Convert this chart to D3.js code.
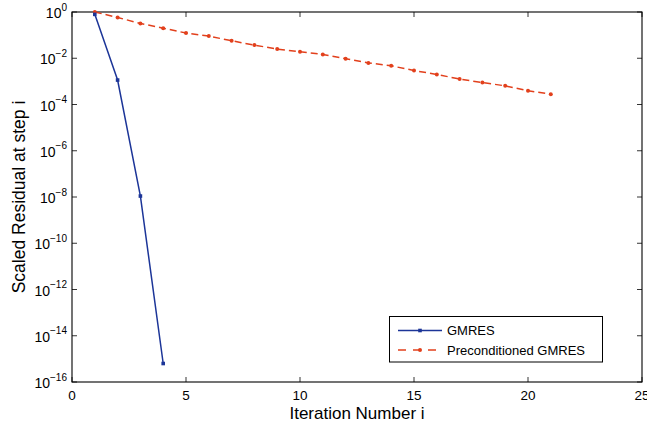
<!DOCTYPE html>
<html>
<head>
<meta charset="utf-8">
<script src="https://cdn.jsdelivr.net/npm/d3@7"></script>
<style>
body{margin:0;background:#fff;}
text{font-family:"Liberation Sans",Arial,sans-serif;fill:#000;}
</style>
</head>
<body>
<div id="chart"></div>
<script>
// iteration numbers and residuals
const gmresIter = [1, 2, 3, 4];
const gmresRes = [0.79, 1.14e-3, 1.1e-8, 6.3e-16];

const precIter = [1,2,3,4,5,6,7,8,9,10,11,12,13,14,15,16,17,18,19,20,21];
const precRes = [1.0, 0.58, 0.32, 0.2, 0.123, 0.091, 0.057, 0.037, 0.025, 0.019,
  0.0146, 0.0095, 0.0063, 0.0047, 0.00295, 0.002, 0.00126, 0.00089, 0.00064, 0.00039, 0.00028];

const xTicks = [0, 5, 10, 15, 20, 25];
const yExps = [0, -2, -4, -6, -8, -10, -12, -14, -16];

const W = 647, H = 425;
const margin = {top: 12, left: 72, right: 5, bottom: 43};
const pw = 642 - margin.left;
const ph = 382 - margin.top;

const blue = '#1c3598';
const red = '#e2401c';

const svg = d3.select('#chart').append('svg')
  .attr('width', W).attr('height', H);

const x = d3.scaleLinear().domain([0, 25]).range([0, pw]);
const y = d3.scaleLog().domain([1e-16, 1]).range([ph, 0]);

const g = svg.append('g').attr('transform', `translate(${margin.left},${margin.top})`);

// ticks inward on all four sides (box)
const tl = 5;
xTicks.forEach(t => {
  g.append('line').attr('x1', x(t)).attr('x2', x(t)).attr('y1', ph).attr('y2', ph - tl)
    .attr('stroke', '#000').attr('stroke-width', 0.8);
  g.append('line').attr('x1', x(t)).attr('x2', x(t)).attr('y1', 0).attr('y2', tl)
    .attr('stroke', '#000').attr('stroke-width', 0.8);
  g.append('text').attr('x', x(t)).attr('y', ph + 18)
    .attr('text-anchor', 'middle').style('font-size', '13.5px').text(t);
});

yExps.forEach(e => {
  const yy = y(Math.pow(10, e));
  g.append('line').attr('x1', 0).attr('x2', tl).attr('y1', yy).attr('y2', yy)
    .attr('stroke', '#000').attr('stroke-width', 0.8);
  g.append('line').attr('x1', pw).attr('x2', pw - tl).attr('y1', yy).attr('y2', yy)
    .attr('stroke', '#000').attr('stroke-width', 0.8);
  const t = g.append('text').attr('class', 'ylab').attr('y', yy + 6)
    .style('font-size', '14px');
  t.append('tspan').text('10');
  t.append('tspan').attr('dy', -7.5).style('font-size', '10px').text(e === 0 ? '0' : '\u2212' + (-e));
});
// y tick labels end 5px before the axis
g.selectAll('.ylab').each(function(){
  const w = this.getComputedTextLength();
  d3.select(this).attr('x', -w - 5);
});

// frame
g.append('rect').attr('x', 0).attr('y', 0).attr('width', pw).attr('height', ph)
  .attr('fill', 'none').attr('stroke', '#000').attr('stroke-width', 1.1);

// lines
const gm = gmresIter.map((d, i) => [d, gmresRes[i]]);
const pr = precIter.map((d, i) => [d, precRes[i]]);
const line = d3.line().x(d => x(d[0])).y(d => y(d[1]));

g.append('path').datum(pr).attr('d', line).attr('fill', 'none')
  .attr('stroke', red).attr('stroke-width', 1.5).attr('stroke-dasharray', '7,4');
g.selectAll('.pm').data(pr).join('circle').attr('class', 'pm')
  .attr('cx', d => x(d[0])).attr('cy', d => y(d[1])).attr('r', 2).attr('fill', red);

g.append('path').datum(gm).attr('d', line).attr('fill', 'none')
  .attr('stroke', blue).attr('stroke-width', 1.5);
g.selectAll('.gm').data(gm).join('rect').attr('class', 'gm')
  .attr('x', d => x(d[0]) - 1.8).attr('y', d => y(d[1]) - 1.8)
  .attr('width', 3.6).attr('height', 3.6).attr('fill', blue);

// legend
const lg = svg.append('g');
lg.append('rect').attr('x', 389.5).attr('y', 316.5).attr('width', 213).attr('height', 45.5)
  .attr('fill', '#fff').attr('stroke', '#000').attr('stroke-width', 1);
lg.append('line').attr('x1', 398).attr('x2', 442).attr('y1', 330.5).attr('y2', 330.5)
  .attr('stroke', blue).attr('stroke-width', 1.5);
lg.append('rect').attr('x', 418.2).attr('y', 328.7).attr('width', 3.6).attr('height', 3.6).attr('fill', blue);
lg.append('text').attr('x', 447).attr('y', 335).style('font-size', '13px').text('GMRES');
lg.append('line').attr('x1', 398).attr('x2', 442).attr('y1', 350).attr('y2', 350)
  .attr('stroke', red).attr('stroke-width', 1.5).attr('stroke-dasharray', '8,7');
lg.append('circle').attr('cx', 420).attr('cy', 350).attr('r', 2).attr('fill', red);
lg.append('text').attr('x', 447).attr('y', 354.5).style('font-size', '13px').text('Preconditioned GMRES');

// axis labels
svg.append('text').attr('x', margin.left + pw / 2).attr('y', 419)
  .attr('text-anchor', 'middle').style('font-size', '17px').text('Iteration Number i');
svg.append('text').attr('transform', `translate(25,${margin.top + ph / 2}) rotate(-90)`)
  .attr('text-anchor', 'middle').style('font-size', '17.5px').text('Scaled Residual at step i');
</script>
</body>
</html>
